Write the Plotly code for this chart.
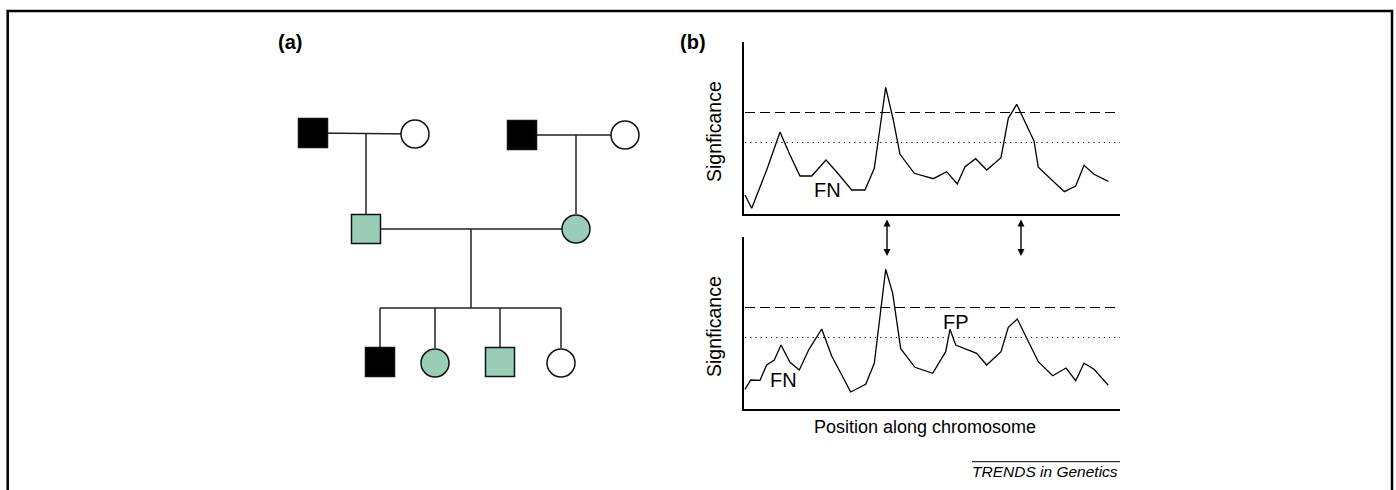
import plotly.graph_objects as go

W, H = 1396, 490

# ---------------- Panel (b): significance profiles ----------------
pos_top = [1, 7.7, 22.7, 36, 46, 56, 67.7, 82, 92.7, 107.7, 121, 130.3, 141.7, 149.3, 156,
           170.3, 189.3, 202.7, 213.3, 221, 231.7, 242.7, 257, 264.3, 272.7, 290, 294.3,
           320.3, 331.7, 340, 350, 364.3]
sig_top = [19, 5.7, 44, 82, 59, 38, 38, 54, 42, 24, 24, 45.7, 126.7, 94, 59.7,
           40.7, 35.3, 42.3, 30, 47.3, 55.3, 44, 56.3, 95.7, 109.7, 73, 46.7,
           22.3, 28, 48.7, 39.7, 32.7]

pos_bot = [1, 6.7, 16, 22.7, 30.3, 37, 46, 55.3, 65, 77.7, 87.7, 106.7, 121.7, 130.3,
           141.7, 148.7, 156.7, 171, 188.7, 201.7, 206, 211.7, 232.7, 242.7, 257, 264.3,
           273.3, 294.3, 308.7, 322, 331.7, 340, 350, 364.3]
sig_bot = [19.7, 29, 28.7, 44, 49, 64, 46.7, 39, 59.7, 80, 53, 17, 24.7, 45.7,
           139.7, 115.7, 60.3, 41.7, 35.7, 57.3, 79.7, 64, 55.7, 44, 57.3, 81.7,
           90, 47.3, 33.3, 41, 28.3, 45.7, 39.7, 23.7]

threshold_high = 101.5   # dashed line
threshold_low = 71.5     # dotted line
x_max = 376
y_max = 172
arrow_positions = [143, 277]

labels_top = [("FN", 83, 24)]
labels_bot = [("FN", 39, 29), ("FP", 212, 87)]

# ---------------- Panel (a): pedigree ----------------
ped_x = [313, 415, 522, 625, 366, 576, 380, 435, 500, 561]
ped_y = [133, 134, 135, 135, 229, 229, 362, 363, 362, 363]
ped_sex = ["M", "F", "M", "F", "M", "F", "M", "F", "M", "F"]
ped_status = ["affected", "normal", "affected", "normal", "carrier", "carrier",
              "affected", "carrier", "carrier", "normal"]
couples = [(0, 1), (2, 3), (4, 5)]
single_children = {0: 4, 1: 5}      # couple index -> only child
sibship_parent = 2                  # couple index with a sibship
sibship = [6, 7, 8, 9]
sibship_y = 308

GREEN = "#9ACDB8"
fill_map = {"affected": "black", "normal": "white", "carrier": GREEN}
FONT = "Liberation Sans, Arial, Helvetica, sans-serif"

fig = go.Figure()

# domains (paper fractions)
xd = [744 / W, 1120 / W]
yd_top = [1 - 214 / H, 1 - 42 / H]
yd_bot = [1 - 409 / H, 1 - 237 / H]

# threshold lines + profiles
for xa, ya, px, py in [("x", "y", pos_top, sig_top), ("x2", "y2", pos_bot, sig_bot)]:
    fig.add_trace(go.Scatter(x=[1, x_max], y=[threshold_high] * 2, mode="lines",
                             line=dict(color="black", width=1.1, dash="10px,5px"),
                             xaxis=xa, yaxis=ya, showlegend=False, hoverinfo="skip"))
    fig.add_trace(go.Scatter(x=[1, x_max], y=[threshold_low] * 2, mode="lines",
                             line=dict(color="black", width=1.1, dash="1.2px,4px"),
                             xaxis=xa, yaxis=ya, showlegend=False, hoverinfo="skip"))
    fig.add_trace(go.Scatter(x=px, y=py, mode="lines",
                             line=dict(color="black", width=1.3),
                             xaxis=xa, yaxis=ya, showlegend=False, hoverinfo="skip"))

# pedigree lines
lx, ly = [], []
half = 15
for ci, (a, b) in enumerate(couples):
    lx += [ped_x[a], ped_x[b], None]
    ly += [ped_y[a], ped_y[b], None]
    my = (ped_y[a] + ped_y[b]) / 2
    if ci in single_children:
        c = single_children[ci]
        lx += [ped_x[c], ped_x[c], None]
        ly += [my, ped_y[c] - half, None]
    if ci == sibship_parent:
        mx = (ped_x[a] + ped_x[b]) / 2
        lx += [mx, mx, None]
        ly += [my, sibship_y, None]
        sx = [ped_x[c] for c in sibship]
        lx += [min(sx), max(sx), None]
        ly += [sibship_y, sibship_y, None]
        for c in sibship:
            lx += [ped_x[c], ped_x[c], None]
            ly += [sibship_y, ped_y[c] - half, None]
fig.add_trace(go.Scatter(x=lx, y=ly, mode="lines", line=dict(color="#222", width=1.5),
                         xaxis="x3", yaxis="y3", showlegend=False, hoverinfo="skip"))

# pedigree symbols
for sex, sym, size in [("M", "square", 29), ("F", "circle", 28)]:
    idx = [i for i, s in enumerate(ped_sex) if s == sex]
    fig.add_trace(go.Scatter(
        x=[ped_x[i] for i in idx], y=[ped_y[i] for i in idx], mode="markers",
        marker=dict(symbol=sym, size=size,
                    color=[fill_map[ped_status[i]] for i in idx],
                    line=dict(color="#111", width=1.5)),
        xaxis="x3", yaxis="y3", showlegend=False, hoverinfo="skip"))

axis_common = dict(showgrid=False, zeroline=False, showticklabels=False, ticks="",
                   showline=True, linecolor="black", linewidth=1.5, mirror=False)


def txt(text, x, y, xref="paper", yref="paper", size=18, angle=0, xanchor="center"):
    return dict(text=text, x=x, y=y, xref=xref, yref=yref, showarrow=False,
                xanchor=xanchor, yanchor="middle", textangle=angle,
                font=dict(size=size, color="black", family=FONT))


annotations = []
for text, x, y in labels_top:
    annotations.append(txt(text, x, y, "x", "y", size=20))
for text, x, y in labels_bot:
    annotations.append(txt(text, x, y, "x2", "y2", size=20))

# double arrows between panels
for ax_pos in arrow_positions:
    annotations.append(dict(x=ax_pos, y=1 - 256 / H, xref="x", yref="paper",
                            ax=0, ay=-38, axref="pixel", ayref="pixel",
                            showarrow=True, arrowhead=2, startarrowhead=2,
                            arrowside="end+start", arrowsize=1, arrowwidth=1.4,
                            arrowcolor="black", text=""))

for yc in [132, 327]:
    annotations.append(txt("Signficance", 714 / W, 1 - yc / H, size=19.5, angle=-90))

annotations.append(txt("Position along chromosome", 925 / W, 1 - 427 / H, size=18))
annotations.append(txt("<b>(a)</b>", 289.5 / W, 1 - 42 / H, size=20))
annotations.append(txt("<b>(b)</b>", 692.5 / W, 1 - 42 / H, size=20))
annotations.append(txt("<i>TRENDS in Genetics</i>", 1120 / W, 1 - 471.5 / H, size=15.5,
                       xanchor="right"))

shapes = [
    # frame
    dict(type="path", xref="paper", yref="paper",
         path=f"M {7.7 / W},-0.2 L {7.7 / W},{1 - 11 / H} L {1392 / W},{1 - 11 / H} L {1392 / W},-0.2",
         line=dict(color="black", width=2.5)),
    # overline of the journal credit
    dict(type="line", xref="paper", yref="paper", x0=972 / W, x1=1120 / W,
         y0=1 - 461.7 / H, y1=1 - 461.7 / H, line=dict(color="black", width=1)),
]

fig.update_layout(
    width=W, height=H, margin=dict(l=0, r=0, t=0, b=0),
    paper_bgcolor="white", plot_bgcolor="rgba(0,0,0,0)",
    font=dict(family=FONT, color="black"),
    xaxis=dict(domain=xd, range=[0, x_max], anchor="y", **axis_common),
    yaxis=dict(domain=yd_top, range=[0, y_max], anchor="x", **axis_common),
    xaxis2=dict(domain=xd, range=[0, x_max], anchor="y2", **axis_common),
    yaxis2=dict(domain=yd_bot, range=[0, y_max], anchor="x2", **axis_common),
    xaxis3=dict(domain=[0, 1], range=[0, W], anchor="y3", visible=False),
    yaxis3=dict(domain=[0, 1], range=[H, 0], anchor="x3", visible=False),
    annotations=annotations, shapes=shapes, showlegend=False,
)

fig.write_html("out.html")
